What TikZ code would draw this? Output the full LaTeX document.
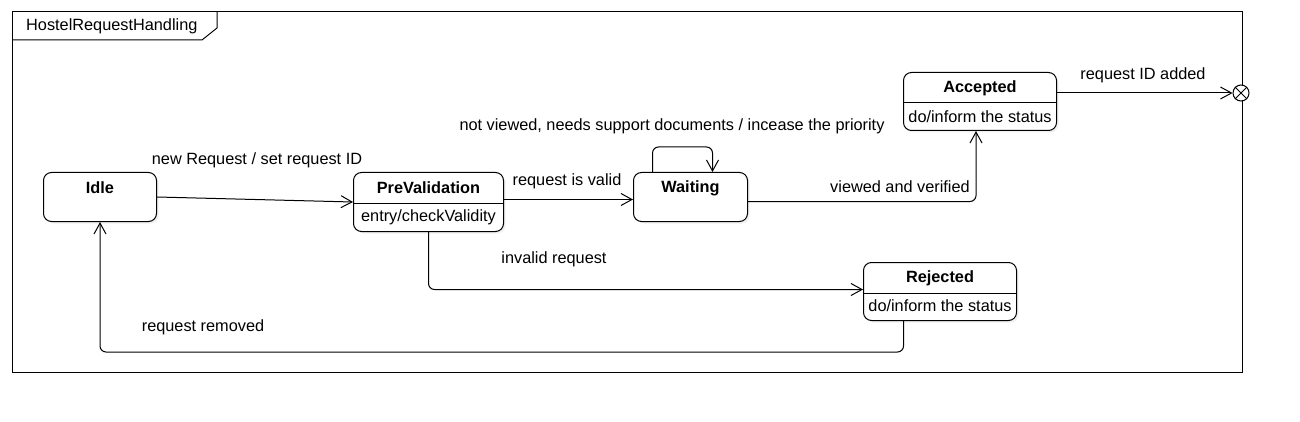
\documentclass[tikz,border=0pt]{standalone}
\usepackage{fontspec}
\setmainfont{Liberation Sans}
\usetikzlibrary{arrows.meta,calc,shadows}
\begin{document}
\begin{tikzpicture}[x=1pt,y=-1pt,
  every node/.style={font=\fontsize{16.3}{19}\selectfont, inner sep=0pt},
  state/.style={draw, line width=1pt, rounded corners=8pt, fill=white, anchor=north west,
     drop shadow={shadow xshift=2pt, shadow yshift=-2pt, opacity=0.12}},
  ttl/.style={font=\fontsize{16.3}{19}\selectfont\bfseries},
  conn/.style={line width=1pt, rounded corners=6pt, -{Straight Barb[length=11pt,width=12pt]}},
  divider/.style={line width=1pt}
]
\useasboundingbox (0,0) rectangle (1300,422);
% frame
\draw[line width=1pt] (12,12) rectangle (1242,372);
\draw[line width=1pt] (12,40) -- (202,40) -- (217,28) -- (217,12);
\node[anchor=west] (framename) at (26,26) {HostelRequestHandling};

% states
\node[state, minimum width=113pt, minimum height=49pt] (idle) at (43,172) {};
\node[ttl] (idlet) at ($(idle.north)+(0,16)$) {Idle};

\node[state, minimum width=150pt, minimum height=59pt] (preval) at (353,172) {};
\draw[divider] ($(preval.north west)+(0,31)$) -- ($(preval.north east)+(0,31)$);
\node[ttl] (prevalt) at ($(preval.north)+(0,16)$) {PreValidation};
\node (prevalb) at ($(preval.north)+(0,45)$) {entry/checkValidity};

\node[state, minimum width=114pt, minimum height=49pt] (waiting) at (633,172) {};
\node[ttl] (waitingt) at ($(waiting.north)+(0,16)$) {Waiting};

\node[state, minimum width=153pt, minimum height=58pt] (accepted) at (903,72) {};
\draw[divider] ($(accepted.north west)+(0,31)$) -- ($(accepted.north east)+(0,31)$);
\node[ttl] (acceptedt) at ($(accepted.north)+(0,16)$) {Accepted};
\node (acceptedb) at ($(accepted.north)+(0,45)$) {do/inform the status};

\node[state, minimum width=153pt, minimum height=58pt] (rejected) at (863,262) {};
\draw[divider] ($(rejected.north west)+(0,31)$) -- ($(rejected.north east)+(0,31)$);
\node[ttl] (rejectedt) at ($(rejected.north)+(0,16)$) {Rejected};
\node (rejectedb) at ($(rejected.north)+(0,44)$) {do/inform the status};

% final state
\node[draw, circle, line width=1pt, minimum size=16pt, fill=white] (final) at (1241,93) {};
\draw[line width=1pt] (final.north west) -- (final.south east) (final.north east) -- (final.south west);

% connectors
\draw[conn] (idle.east) -- (preval.west);
\node (l1) at (257,160) {new Request / set request ID};

\draw[conn] ([yshift=2.5pt]preval.east) -- ([yshift=-2.5pt]waiting.west);
\node (l2) at (567,181) {request is valid};

\draw[conn] ([xshift=-38pt]waiting.north) -- ++(0,-25) -| ([xshift=22pt]waiting.north);
\node (l3) at (672,126) {not viewed, needs support documents / incease the priority};

\draw[conn] ([yshift=-4.5pt]waiting.east) -| ([xshift=-4pt]accepted.south);
\node (l4) at (900,187) {viewed and verified};

\draw[conn] (final.west -| accepted.east) -- (final.west);
\node (l5) at (1143,75) {request ID added};

\draw[conn] (preval.south) |- ([yshift=2pt]rejected.west);
\node (l6) at (554,259) {invalid request};

\draw[conn] ([xshift=-36.5pt]rejected.south) -- ++(0,31) -| (idle.south);
\node (l7) at (203,327) {request removed};
\end{tikzpicture}
\end{document}
